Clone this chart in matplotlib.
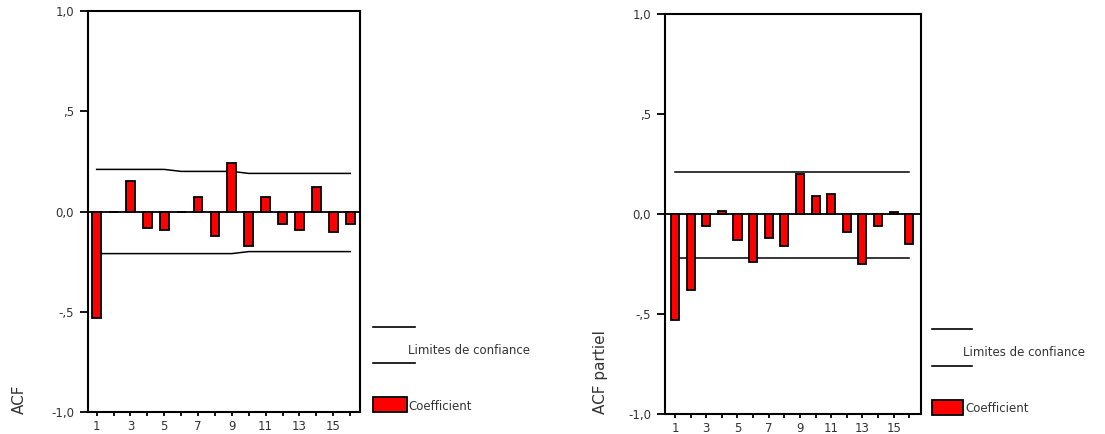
import matplotlib
matplotlib.use("Agg")
import matplotlib.pyplot as plt
from matplotlib.lines import Line2D
from matplotlib.patches import Rectangle


W, H = 1105, 434

LAGS = list(range(1, 17))
TICK_LAGS = [1, 3, 5, 7, 9, 11, 13, 15]
Y_TICKS = [-1.0, -0.5, 0.0, 0.5, 1.0]
Y_TICK_LABELS = ["-1,0", "-,5", "0,0", ",5", "1,0"]

# autocorrelations
acf = [-0.53, 0.0, 0.15, -0.08, -0.09, 0.0, 0.07, -0.12,
       0.24, -0.17, 0.07, -0.06, -0.09, 0.12, -0.10, -0.06]
acf_upper = [0.21, 0.21, 0.21, 0.21, 0.21, 0.20, 0.20, 0.20,
             0.20, 0.19, 0.19, 0.19, 0.19, 0.19, 0.19, 0.19]
acf_lower = [-0.21, -0.21, -0.21, -0.21, -0.21, -0.21, -0.21, -0.21,
             -0.21, -0.20, -0.20, -0.20, -0.20, -0.20, -0.20, -0.20]

# partial autocorrelations
pacf = [-0.53, -0.38, -0.06, 0.013, -0.13, -0.24, -0.12, -0.16,
        0.20, 0.09, 0.10, -0.09, -0.25, -0.06, 0.012, -0.15]
pacf_upper = [0.21] * 16
pacf_lower = [-0.22] * 16

RED = "#ff0000"
TXT = "#333333"
FONT = "DejaVu Sans"


def fx(px):
    return px / W


def fy(py):
    return 1 - py / H


def draw_panel(rect, xlim, values, upper, lower, ylabel, ylabel_x):
    ax = fig.add_axes(rect)
    ax.bar(LAGS, values, width=0.52, color=RED, edgecolor="black",
           linewidth=1.3, zorder=3)
    ax.plot(LAGS, upper, color="black", linewidth=1.1, zorder=2)
    ax.plot(LAGS, lower, color="black", linewidth=1.1, zorder=2)
    ax.axhline(0, color="black", linewidth=1.3, zorder=4)

    ax.set_xlim(*xlim)
    ax.set_ylim(-1, 1)
    ax.set_yticks(Y_TICKS)
    ax.set_yticklabels(Y_TICK_LABELS)
    ax.set_xticks(LAGS)
    ax.set_xticklabels([str(l) if l in TICK_LAGS else "" for l in LAGS])
    ax.tick_params(axis="y", direction="out", length=6, width=1.3,
                   labelsize=8.5, labelcolor=TXT, pad=4)
    ax.tick_params(axis="x", direction="out", length=3, width=1.3,
                   labelsize=8.5, labelcolor=TXT, pad=3)
    for s in ax.spines.values():
        s.set_linewidth(1.5)

    fig.text(fx(ylabel_x), fy(414), ylabel, rotation=90, ha="center",
             va="bottom", fontsize=11, color=TXT, family=FONT)
    return ax


def draw_legend(x0, x1, y_top, y_bot, text_x, text_y,
                px0, px1, py0, py1, coef_x, coef_y):
    for y in (y_top, y_bot):
        fig.add_artist(Line2D([fx(x0), fx(x1)], [fy(y), fy(y)],
                              color="black", linewidth=1.2,
                              transform=fig.transFigure))
    fig.text(fx(text_x), fy(text_y), "Limites de confiance", ha="left",
             va="center", fontsize=8.5, color=TXT, family=FONT)
    fig.add_artist(Rectangle((fx(px0), fy(py1)), fx(px1) - fx(px0),
                             fy(py0) - fy(py1), facecolor=RED,
                             edgecolor="black", linewidth=1.3,
                             transform=fig.transFigure))
    fig.text(fx(coef_x), fy(coef_y), "Coefficient", ha="left",
             va="center", fontsize=8.5, color=TXT, family=FONT)


plt.rcParams["font.family"] = FONT
fig = plt.figure(figsize=(W / 100, H / 100), dpi=100)

draw_panel([fx(88), fy(412), fx(360) - fx(88), fy(11) - fy(412)],
           (0.49, 16.58), acf, acf_upper, acf_lower, "ACF", 19)
draw_panel([fx(665), fy(414), fx(921) - fx(665), fy(14) - fy(414)],
           (0.36, 16.75), pacf, pacf_upper, pacf_lower, "ACF partiel", 601)

draw_legend(373, 415, 327, 363, 408, 350, 373, 407, 397, 412, 408, 406)
draw_legend(932, 972, 329, 366, 963, 353, 932, 963, 400, 415, 965, 408)

fig.savefig("out.png", dpi=100)
